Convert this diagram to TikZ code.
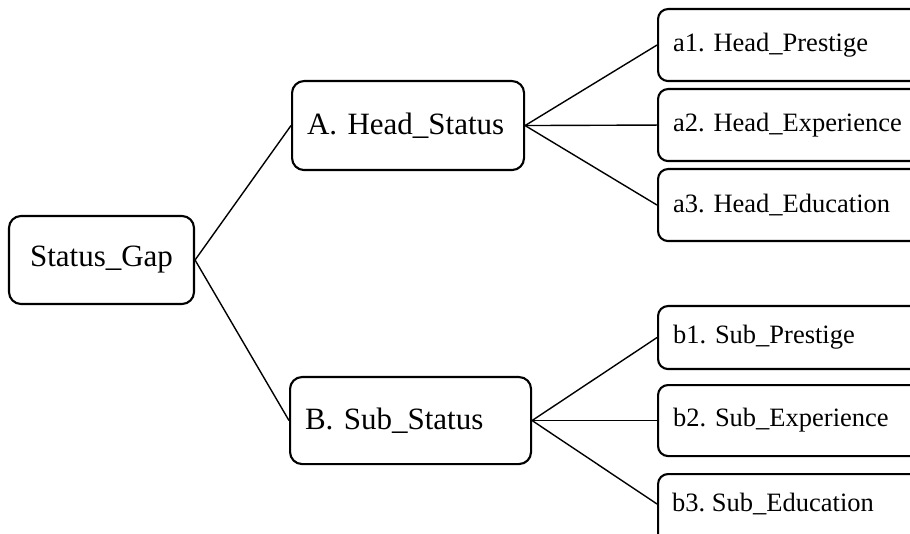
\documentclass[tikz,border=0pt]{standalone}
\usepackage{fontspec}
\setmainfont{Liberation Serif}
\frenchspacing
\begin{document}
\begin{tikzpicture}[x=1pt,y=-1pt,
  box/.style={draw, line width=2.1pt, rounded corners=12pt, inner sep=0pt, fill=white},
  midbox/.style={box, anchor=north west, inner xsep=15pt, align=left, font=\fontsize{31}{31}\selectfont},
  leafbox/.style={box, rounded corners=10pt, anchor=north west, inner xsep=15pt, align=left, text width=300pt, font=\fontsize{26.5}{26.5}\selectfont},
  conn/.style={line width=1.4pt}]
\clip (0,0) rectangle (910,534);
\fill[white] (0,0) rectangle (910,534);
% nodes
\node[box, minimum width=185pt, minimum height=88pt, font=\fontsize{31}{31}\selectfont] (sg) at (101.5,260) {Status\_Gap};
\node[midbox, minimum height=89pt, text width=202pt] (A) at (291,80) {A. Head\_Status};
\node[midbox, minimum height=87pt, text width=211pt] (B) at (289,376) {B. Sub\_Status};
\node[leafbox, minimum height=72pt] (a1) at (657,8) {a1. Head\_Prestige};
\node[leafbox, minimum height=72pt] (a2) at (657,88) {a2. Head\_Experience};
\node[leafbox, minimum height=72pt] (a3) at (657,168) {a3. Head\_Education};
\node[leafbox, minimum height=63pt] (b1) at (657,305) {b1. Sub\_Prestige};
\node[leafbox, minimum height=71pt] (b2) at (657,384) {b2. Sub\_Experience};
\node[leafbox, minimum height=120pt, text height=19pt, anchor=north west, yshift=-1pt] (b3) at (657,472) {};
\node[anchor=west, inner sep=0pt, font=\fontsize{26.5}{26.5}\selectfont] (b3t) at ([xshift=15pt,yshift=-31pt]b3.north west) {b3. Sub\_Education};
% connectors
\draw[conn] (sg.east) -- (A.west);
\draw[conn] (sg.east) -- (B.west);
\draw[conn] (A.east) -- (a1.west);
\draw[conn] (A.east) -- (a2.west);
\draw[conn] (A.east) -- (a3.west);
\draw[conn] (B.east) -- (b1.west);
\draw[conn] (B.east) -- (b2.west);
\draw[conn] (B.east) -- ([yshift=-31pt]b3.north west);
\end{tikzpicture}
\end{document}
